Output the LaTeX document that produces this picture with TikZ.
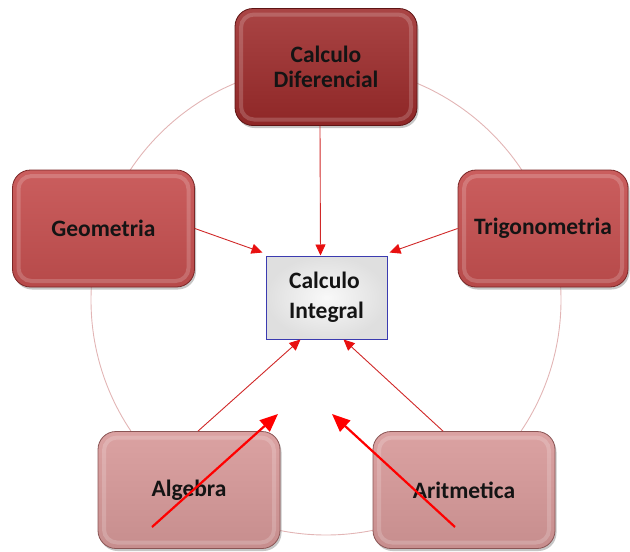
\documentclass[tikz,border=0pt]{standalone}
\usepackage{fontspec}
\setmainfont{Carlito}
\usetikzlibrary{shadows,arrows.meta}
\definecolor{cdred}{HTML}{9E2B2B}
\definecolor{cdedge}{HTML}{5E1414}
\definecolor{midred}{HTML}{C65050}
\definecolor{midedge}{HTML}{7A2626}
\definecolor{lowpink}{HTML}{D89A9A}
\definecolor{lowedge}{HTML}{8A5555}
\definecolor{ringcol}{HTML}{E2B5B5}
\definecolor{linkcol}{HTML}{D02828}
\definecolor{tipcol}{HTML}{E81010}
\definecolor{cibord}{HTML}{3B3BB0}
\definecolor{txt}{HTML}{141414}
\tikzset{
  topicbox/.style={rounded corners=18pt, minimum width=182pt, minimum height=117pt,
    line width=0.8pt, text=txt, align=center,
    font=\fontsize{23.5}{25.5}\selectfont\bfseries,
    drop shadow={shadow xshift=1.5pt, shadow yshift=-2.5pt, opacity=0.45},
    path picture={\draw[white, opacity=0.18, line width=4pt, rounded corners=13pt]
      ([shift={(6pt,-6pt)}]path picture bounding box.north west) rectangle
      ([shift={(-6pt,6pt)}]path picture bounding box.south east);}},
  level1/.style={topicbox, draw=cdedge, top color=cdred!88!white, bottom color=cdred!90!black},
  level2/.style={topicbox, draw=midedge, top color=midred!92!white, bottom color=midred!92!black},
  level3/.style={topicbox, draw=lowedge, top color=lowpink!92!white, bottom color=lowpink!92!black},
  centerbox/.style={draw=cibord, line width=1pt, minimum width=121pt, minimum height=83pt,
    inner color=gray!5, outer color=gray!25, text=txt, align=left,
    font=\fontsize{23.5}{30}\selectfont\bfseries},
  link/.style={draw=linkcol, line width=0.9pt, -{Triangle[length=11pt,width=10pt,color=tipcol]}},
  bigarrow/.style={draw=red, line width=2.2pt, -{Triangle[length=18pt,width=15pt]}}
}
\begin{document}
\begin{tikzpicture}[x=1pt,y=-1pt]
\useasboundingbox (0,0) rectangle (630,552);
\draw[ringcol, line width=0.9pt] (326,300) circle[radius=235];
\node[level1] (cd) at (326,67) {Calculo\\Diferencial};
\node[level2] (geo) at (103.5,228.5) {Geometria};
\node[level2, minimum width=170pt] (trig) at (543,228.5) {Trigonometria};
\node[level3] (alg) at (189,490) {Algebra};
\node[level3] (ari) at (464,490) {Aritmetica};
\node[centerbox] (ci) at (326.5,297.5) {Calculo\\Integral};
\draw[link] ([xshift=-6pt]cd.south) -- ([xshift=-6pt]ci.north);
\draw[link] (geo.east) -- ([shift={(-3pt,3pt)}]ci.north west);
\draw[link] (trig.west) -- ([shift={(2pt,3pt)}]ci.north east);
\draw[link] ([xshift=9pt]alg.north) -- ([xshift=-26pt]ci.south);
\draw[link] ([xshift=-21pt]ari.north) -- ([xshift=17pt]ci.south);
\coordinate (a1s) at (152,527);
\coordinate (a1e) at (278,414);
\coordinate (a2s) at (455,527);
\coordinate (a2e) at (332,414);
\draw[bigarrow] (a1s) -- (a1e);
\draw[bigarrow] (a2s) -- (a2e);
\end{tikzpicture}
\end{document}
